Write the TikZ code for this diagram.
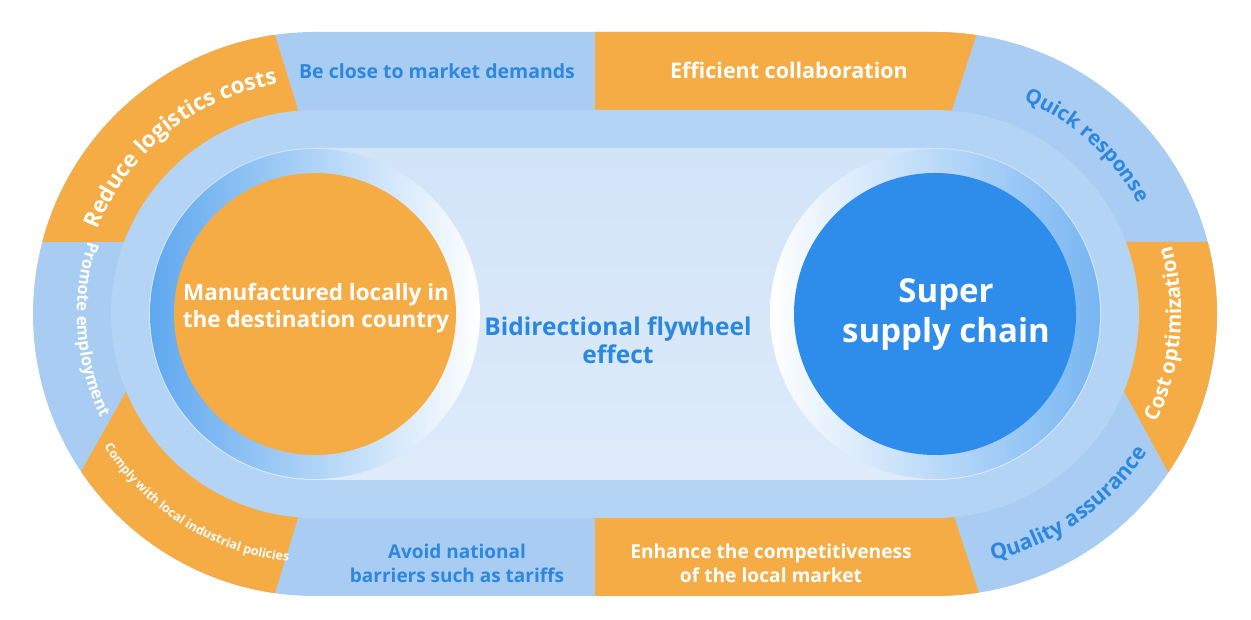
\documentclass[tikz,border=0pt]{standalone}
\usepackage{fontspec}
\setmainfont{Open Sans}
\usetikzlibrary{decorations.text,calc}
\definecolor{orng}{HTML}{F5AC45}
\definecolor{bandblue}{HTML}{A9CCF2}
\definecolor{midblue}{HTML}{B3D4F5}
\definecolor{innertop}{HTML}{D2E4F8}
\definecolor{innerbot}{HTML}{DDEBFA}
\definecolor{txtblue}{HTML}{2C87DF}
\definecolor{circblue}{HTML}{2E8CEA}
\definecolor{ringblue}{HTML}{5FA8EF}
\begin{document}
\begin{tikzpicture}[x=1pt,y=1pt,
  bandtxt/.style={font=\fontsize{19.5}{24}\selectfont\bfseries, align=center},
  bluetxt/.style={bandtxt, text=txtblue},
  whitetxt/.style={bandtxt, text=white},
  curved/.style={decorate, decoration={text along path, text align=center, text={#1}}}
]
\useasboundingbox (0,0) rectangle (1251,620);
\fill[white] (0,0) rectangle (1251,620);
\coordinate (C1) at (315,306);
\coordinate (C2) at (935,306);
% outer band
\def\stadium#1{(315,306+#1) -- (935,306+#1) arc[start angle=90,end angle=-90,radius=#1] -- (315,306-#1) arc[start angle=270,end angle=90,radius=#1] -- cycle}
\fill[bandblue] \stadium{282};
\begin{scope}
  \clip \stadium{282};
  \fill[orng] (0,378) -- (0,620) -- (264.3,620) -- (338.5,378) -- cycle;
  \fill[orng] (595,620) -- (987.7,620) -- (932.5,450) -- (595,450) -- cycle;
  \fill[orng] (1100,378) -- (1260,378) -- (1260,50) -- (1221.6,50) -- (1112.5,250) -- (1100,250) -- cycle;
  \fill[orng] (595,0) -- (987.7,0) -- (932.5,170) -- (595,170) -- cycle;
  \fill[orng] (166.5,300) -- (-2.7,0) -- (266.7,0) -- (358.7,300) -- cycle;
\end{scope}
\fill[midblue] \stadium{204};
\shade[top color=innertop, bottom color=innerbot] \stadium{166};
% circles
\shade[left color=ringblue, right color=white] (C1) circle[radius=165];
\fill[orng] (C1) circle[radius=141];
\shade[left color=white, right color=ringblue!85!white] (C2) circle[radius=165];
\fill[circblue] (C2) circle[radius=141];
% centre texts
\node[text=white, font=\fontsize{22.5}{27}\selectfont\bfseries, align=center] (manu) at (316,311.5) {Manufactured locally in\\the destination country};
\node[text=white, font=\fontsize{33}{40}\selectfont\bfseries, align=center] (super) at (946,305) {Super\\supply chain};
\node[text=txtblue, font=\fontsize{24.5}{28}\selectfont\bfseries, align=center] (bidir) at (618,280) {Bidirectional flywheel\\effect};
% straight band texts
\node[bluetxt] (close) at (437,549) {Be close to market demands};
\node[whitetxt, font=\fontsize{21.5}{24}\selectfont\bfseries] (effic) at (789,550) {Efficient collaboration};
\node[bluetxt, font=\fontsize{19}{24}\selectfont\bfseries] (avoid) at (457,57) {Avoid national\\barriers such as tariffs};
\node[whitetxt, font=\fontsize{19.2}{24}\selectfont\bfseries] (enhance) at (771,57) {Enhance the competitiveness\\of the local market};
% curved band texts
\path[curved={|\fontsize{22.5}{22.5}\selectfont\bfseries\color{white}|Reduce logistics costs}]
  ([shift={(C1)}]176:233) arc[start angle=176, end angle=82, radius=233];
\path[curved={|\fontsize{20.5}{20.5}\selectfont\bfseries\color{txtblue}|Quick response}]
  ([shift={(C2)}]93:231) arc[start angle=93, end angle=3, radius=231];
\path[curved={|\fontsize{20.5}{20.5}\selectfont\bfseries\color{white}|Cost optimization}]
  ([shift={(C2)}]-50:246) arc[start angle=-50, end angle=40, radius=246];
\path[curved={|\fontsize{21.5}{21.5}\selectfont\bfseries\color{txtblue}|Quality assurance}]
  ([shift={(C2)}]-100:253) arc[start angle=-100, end angle=-10, radius=253];
\path[curved={|\fontsize{16.5}{16.5}\selectfont\bfseries\color{white}|Promote employment}]
  ([shift={(C1)}]139:238) arc[start angle=139, end angle=229, radius=238];
\path[curved={|\fontsize{12.5}{12.5}\selectfont\bfseries\color{white}|Comply with local industrial policies}]
  ([shift={(C1)}]199:249) arc[start angle=199, end angle=277, radius=249];
\end{tikzpicture}
\end{document}
